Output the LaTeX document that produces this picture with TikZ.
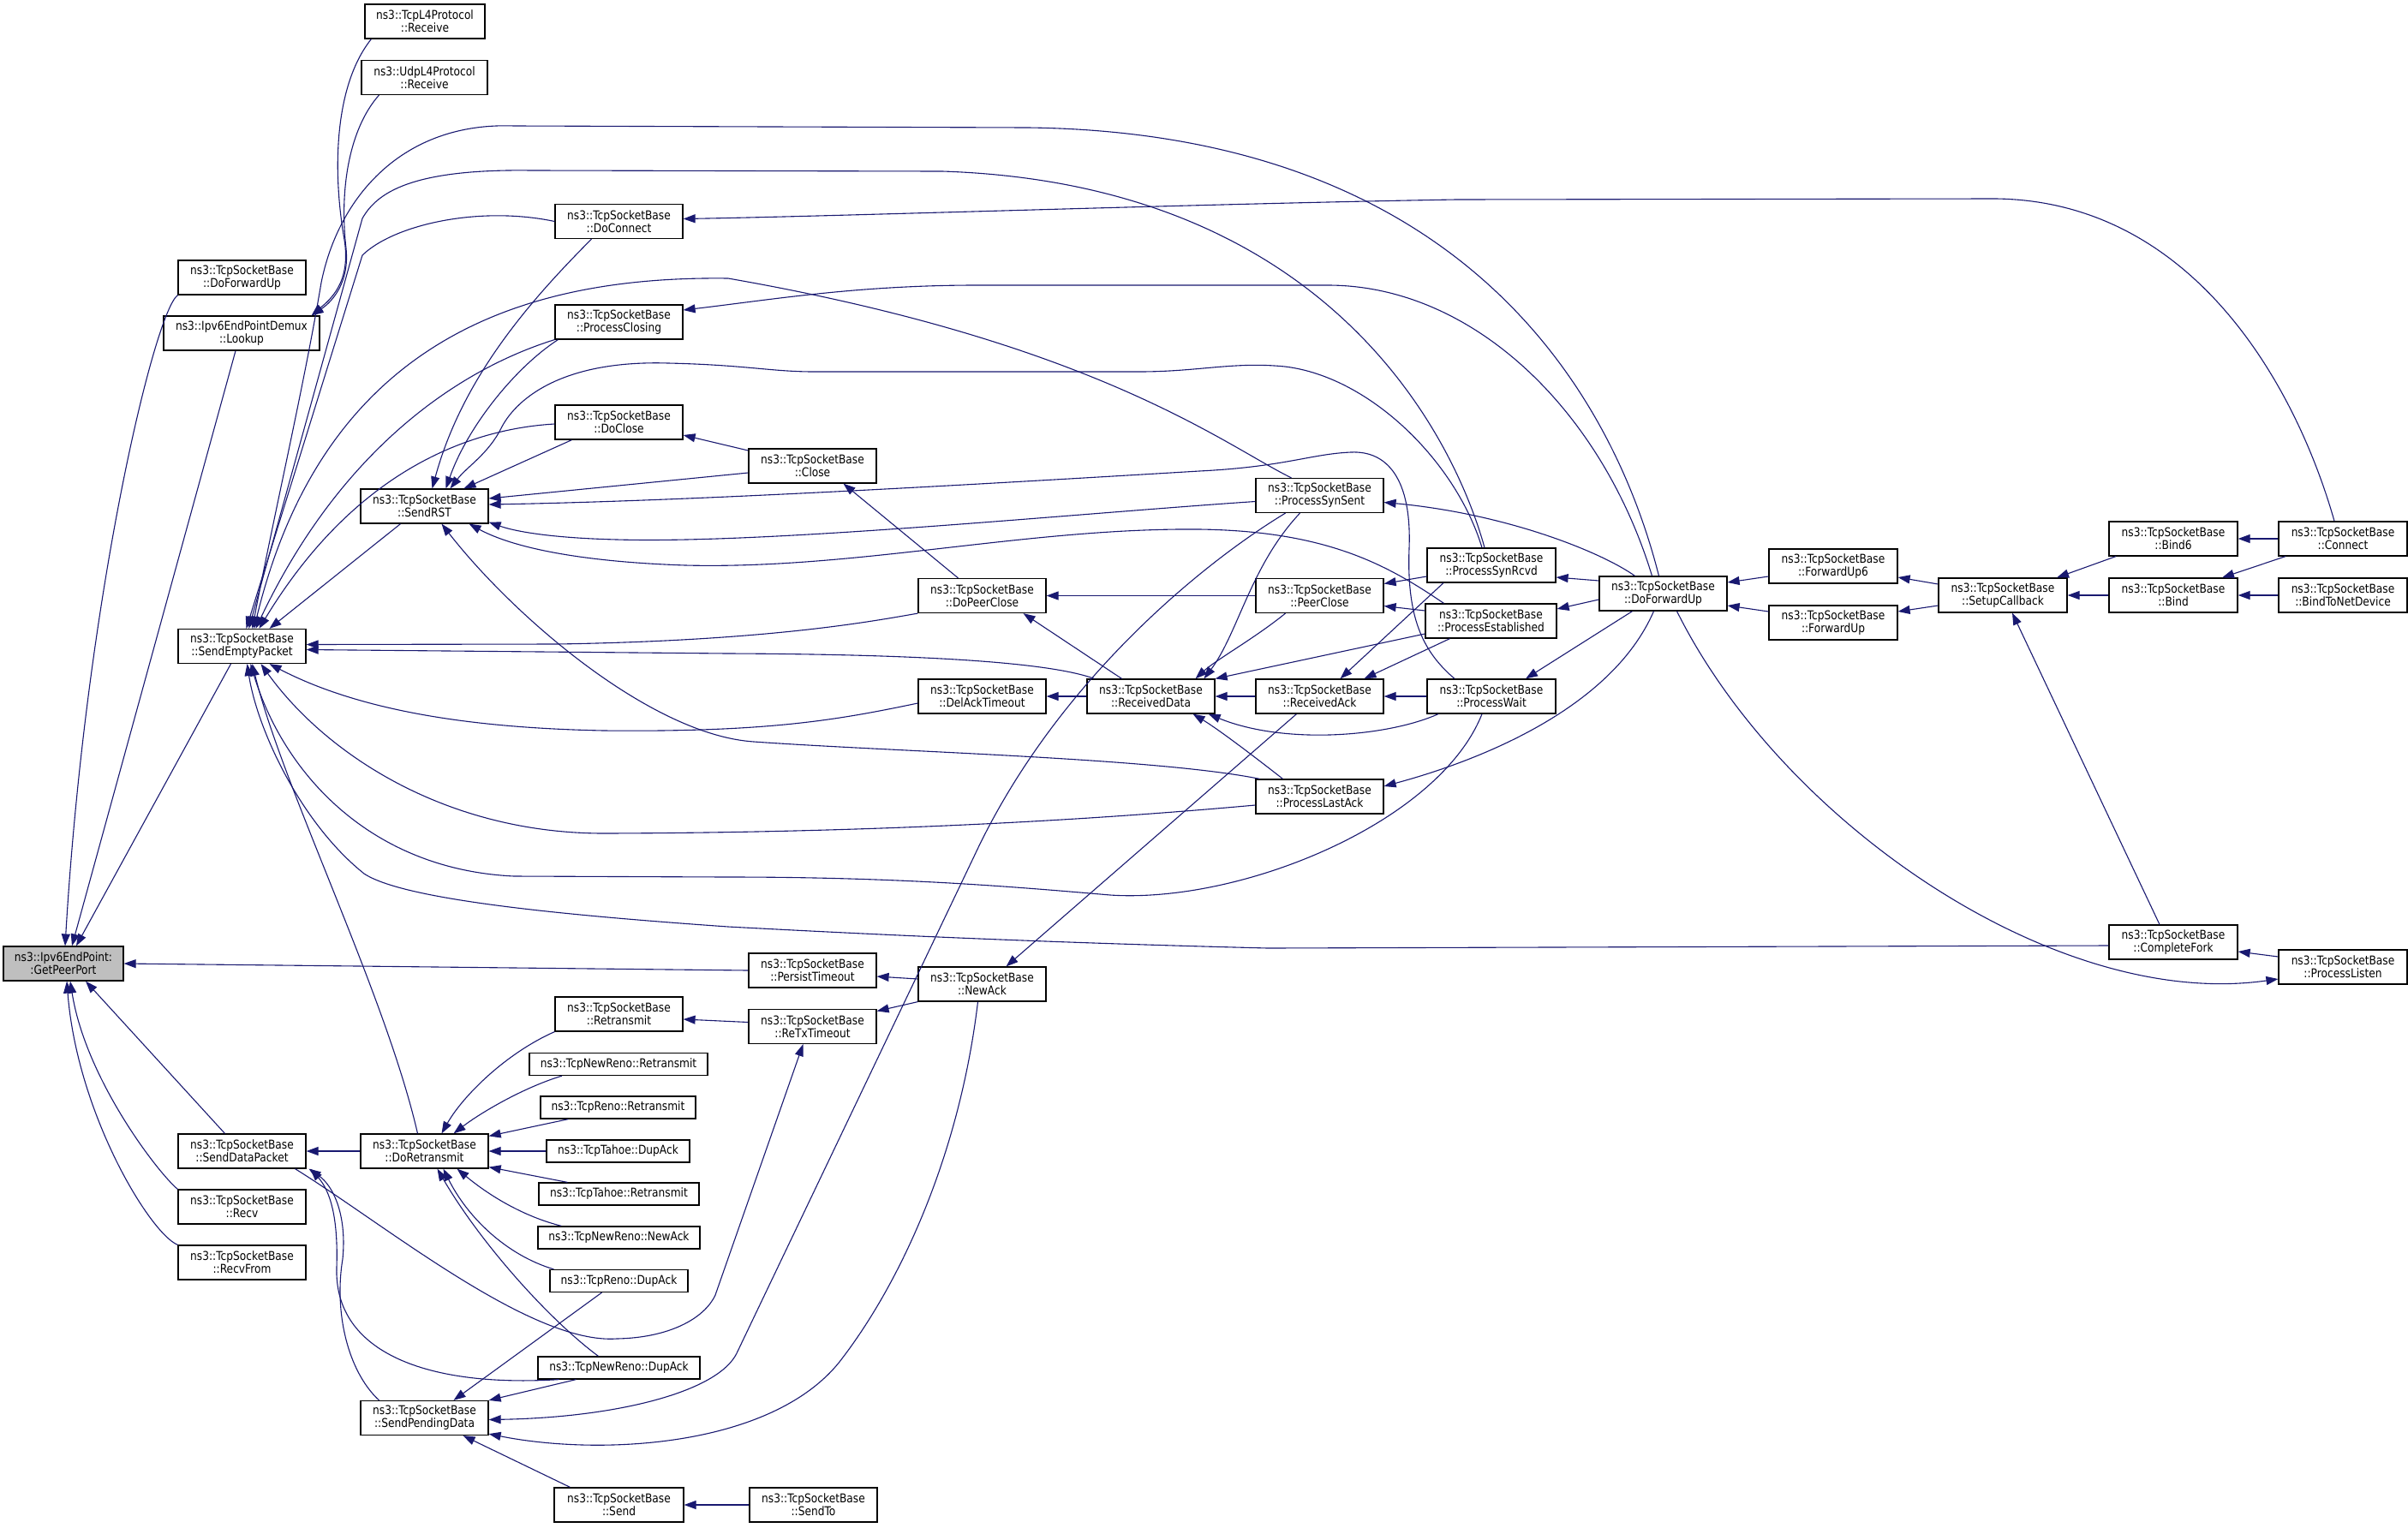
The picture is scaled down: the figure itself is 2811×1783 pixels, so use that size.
\documentclass[tikz,border=0pt]{standalone}
\usepackage{fontspec}
\setmainfont{DejaVu Sans}[FakeStretch=0.86]
\usepackage{tikz}
\usetikzlibrary{arrows.meta,positioning}
\definecolor{edgeblue}{HTML}{191970}
\definecolor{rootgray}{HTML}{BFBFBF}
\newcommand{\doxfont}{\fontsize{14.2}{15}\selectfont}
\tikzset{%
	func/.style  = {draw, rectangle, line width=1.2pt, fill=white, minimum width=149pt, minimum height=40pt, inner sep=0pt, align=center, font=\doxfont},
	func1/.style = {func, minimum height=26pt}, % one-line box
	root/.style  = {func, fill=rootgray}, % the function itself
	call/.style  = {draw=edgeblue, line width=1.1pt, -{Triangle[length=14pt,width=10pt]}},
}
\begin{document}
\begin{tikzpicture}[x=1pt,y=-1pt]
	\useasboundingbox (0,0) rectangle (2811,1783);
	% nodes, left to right
	\node [root, minimum width=140pt] (getpeer) at (74,1125) {ns3::Ipv6EndPoint:\\:GetPeerPort};
	
	\node [func] (dofwdL) at (282.5,324) {ns3::TcpSocketBase\\::DoForwardUp};
	\node [func, minimum width=182pt] (lookup) at (282,389) {ns3::Ipv6EndPointDemux\\::Lookup};
	\node [func] (sendempty) at (282.5,754.5) {ns3::TcpSocketBase\\::SendEmptyPacket};
	\node [func] (senddata) at (282.5,1344) {ns3::TcpSocketBase\\::SendDataPacket};
	\node [func] (recv) [below of=senddata, node distance=65pt] {ns3::TcpSocketBase\\::Recv};
	\node [func] (recvfrom) [below of=recv, node distance=65pt] {ns3::TcpSocketBase\\::RecvFrom};
	
	\node [func, minimum width=140pt] (l4tcp) at (496,25) {ns3::TcpL4Protocol\\::Receive};
	\node [func, minimum width=147pt] (l4udp) at (495.5,90.5) {ns3::UdpL4Protocol\\::Receive};
	\node [func] (sendrst) at (495.5,591) {ns3::TcpSocketBase\\::SendRST};
	\node [func] (doretx) [right of=senddata, node distance=213pt] {ns3::TcpSocketBase\\::DoRetransmit};
	\node [func] (sendpend) at (495.5,1655.5) {ns3::TcpSocketBase\\::SendPendingData};
	
	\node [func] (doconnect) at (722.5,258.5) {ns3::TcpSocketBase\\::DoConnect};
	\node [func] (procclosing) at (722.5,376) {ns3::TcpSocketBase\\::ProcessClosing};
	\node [func] (doclose) at (722.5,493) {ns3::TcpSocketBase\\::DoClose};
	\node [func] (retx) at (722.5,1184) {ns3::TcpSocketBase\\::Retransmit};
	\node [func1, minimum width=208pt] (nrretx) at (722,1242.5) {ns3::TcpNewReno::Retransmit};
	\node [func1, minimum width=181pt] (renoretx) at (721.5,1293) {ns3::TcpReno::Retransmit};
	\node [func1, minimum width=167pt] (tahoedup) [right of=doretx, node distance=226pt] {ns3::TcpTahoe::DupAck};
	\node [func1, minimum width=187pt] (tahoeretx) at (722.5,1394) {ns3::TcpTahoe::Retransmit};
	\node [func1, minimum width=189pt] (nrnewack) at (722.5,1445) {ns3::TcpNewReno::NewAck};
	\node [func1, minimum width=161pt] (renodup) at (722.5,1495.5) {ns3::TcpReno::DupAck};
	\node [func1, minimum width=189pt] (nrdup) at (722.5,1597) {ns3::TcpNewReno::DupAck};
	\node [func, minimum width=151pt] (send) at (722.5,1757) {ns3::TcpSocketBase\\::Send};
	
	\node [func] (close) at (948.5,544) {ns3::TcpSocketBase\\::Close};
	\node [func] (persist) at (948.5,1133) {ns3::TcpSocketBase\\::PersistTimeout};
	\node [func] (retxto) at (948.5,1198.5) {ns3::TcpSocketBase\\::ReTxTimeout};
	\node [func] (sendto) [right of=send, node distance=227pt] {ns3::TcpSocketBase\\::SendTo};
	
	\node [func] (dopeerclose) at (1146.5,695.5) {ns3::TcpSocketBase\\::DoPeerClose};
	\node [func] (delack) at (1146.5,813) {ns3::TcpSocketBase\\::DelAckTimeout};
	\node [func] (newack) at (1146.5,1149) {ns3::TcpSocketBase\\::NewAck};
	\node [func] (recvdata) [right of=delack, node distance=197pt] {ns3::TcpSocketBase\\::ReceivedData};
	
	\node [func] (synsent) at (1540.5,578.5) {ns3::TcpSocketBase\\::ProcessSynSent};
	\node [func] (peerclose) [right of=dopeerclose, node distance=394pt] {ns3::TcpSocketBase\\::PeerClose};
	\node [func] (recvack) [right of=recvdata, node distance=197pt] {ns3::TcpSocketBase\\::ReceivedAck};
	\node [func] (lastack) at (1540.5,930) {ns3::TcpSocketBase\\::ProcessLastAck};
	
	\node [func, minimum width=150pt] (synrcvd) at (1741,660) {ns3::TcpSocketBase\\::ProcessSynRcvd};
	\node [func, minimum width=153pt] (established) at (1740.5,725) {ns3::TcpSocketBase\\::ProcessEstablished};
	\node [func, minimum width=150pt] (procwait) [right of=recvack, node distance=200.5pt] {ns3::TcpSocketBase\\::ProcessWait};
	
	\node [func] (dofwd) at (1941.5,693) {ns3::TcpSocketBase\\::DoForwardUp};
	\node [func, minimum width=150pt] (fwdup6) at (2140,661) {ns3::TcpSocketBase\\::ForwardUp6};
	\node [func, minimum width=150pt] (fwdup) at (2140,727) {ns3::TcpSocketBase\\::ForwardUp};
	\node [func, minimum width=150pt] (setupcb) at (2338,695) {ns3::TcpSocketBase\\::SetupCallback};
	\node [func, minimum width=150pt] (bind6) at (2537,629) {ns3::TcpSocketBase\\::Bind6};
	\node [func, minimum width=150pt] (bind) [right of=setupcb, node distance=199pt] {ns3::TcpSocketBase\\::Bind};
	\node [func, minimum width=150pt] (connect) [right of=bind6, node distance=198pt] {ns3::TcpSocketBase\\::Connect};
	\node [func, minimum width=150pt] (bindnet) [right of=bind, node distance=198pt] {ns3::TcpSocketBase\\::BindToNetDevice};
	\node [func, minimum width=150pt] (completefork) at (2537,1100) {ns3::TcpSocketBase\\::CompleteFork};
	\node [func, minimum width=150pt] (proclisten) at (2735,1129) {ns3::TcpSocketBase\\::ProcessListen};
	
	% into GetPeerPort
	\draw[call] (dofwdL.south west) .. controls (180,365) and (100,700) .. ([xshift=2pt]getpeer.north);
	\draw[call] ([xshift=-7pt]lookup.south) -- ([xshift=10pt]getpeer.north);
	\draw[call] ([xshift=-13pt]sendempty.south) -- ([xshift=15pt]getpeer.north);
	\draw[call] (persist.west) -- (getpeer.east);
	\draw[call] ([xshift=-20pt]senddata.north) -- ([xshift=26pt]getpeer.south);
	\draw[call] (recv.north west) .. controls (185,1370) and (100,1260) .. ([xshift=8pt]getpeer.south);
	\draw[call] (recvfrom.north west) .. controls (175,1440) and (90,1300) .. ([xshift=4pt]getpeer.south);
	\draw[call] ([xshift=8pt]l4tcp.south west) .. controls (390,100) and (388,200) .. (402,280) .. controls (410,330) and (385,350) .. ([xshift=-10pt]lookup.north east);
	\draw[call] ([xshift=21pt]l4udp.south west) .. controls (408,150) and (396,220) .. (404,290) .. controls (408,330) and (388,352) .. ([xshift=-10pt]lookup.north east);
	
	% into SendEmptyPacket
	\draw[call] ([xshift=-5pt]dofwd.north) .. controls (1880,450) and (1700,155) .. (1200,149) -- (600,147) .. controls (470,142) and (395,230) .. (375,330) .. controls (355,450) and (320,600) .. ([xshift=12pt]sendempty.north);
	\draw[call] ([xshift=-8pt]synrcvd.north) .. controls (1700,520) and (1560,215) .. (1100,200) -- (620,199) .. controls (480,197) and (440,225) .. (423,255) -- ([xshift=8pt]sendempty.north);
	\draw[call] (doconnect.west) .. controls (560,240) and (460,262) .. (423,298) -- ([xshift=5pt]sendempty.north);
	\draw[call] ([xshift=-33pt]synsent.north) .. controls (1430,520) and (1280,400) .. (850,325) .. controls (620,322) and (380,390) .. ([xshift=14pt]sendempty.north);
	\draw[call] (procclosing.south west) .. controls (540,430) and (400,520) .. ([xshift=16pt]sendempty.north);
	\draw[call] ([yshift=-2pt]doclose.west) .. controls (560,500) and (420,540) .. ([xshift=20pt]sendempty.north);
	\draw[call] ([xshift=-28pt]sendrst.south) -- ([xshift=32pt]sendempty.north);
	\draw[call] (dopeerclose.south west) .. controls (1020,725) and (900,748) .. (650,752) -- ([yshift=2pt]sendempty.east);
	\draw[call] ([xshift=-66pt]recvdata.north) .. controls (1230,775) and (1100,764) .. (850,763) -- ([yshift=-4pt]sendempty.east);
	\draw[call] ([yshift=-8pt]delack.west) .. controls (980,840) and (900,855) .. (705,853) .. controls (550,850) and (420,830) .. ([xshift=32pt]sendempty.south);
	\draw[call] ([yshift=-10pt]lastack.west) .. controls (1300,955) and (1050,972) .. (705,973) .. controls (520,973) and (380,880) .. ([xshift=22pt]sendempty.south);
	\draw[call] ([xshift=-11pt]procwait.south) .. controls (1680,960) and (1450,1055) .. (1296,1045) .. controls (1180,1035) and (1050,1024) .. (850,1024) -- (600,1023) .. controls (430,1015) and (330,900) .. ([xshift=10pt]sendempty.south);
	\draw[call] ([yshift=-4pt]completefork.west) -- (1480,1107) .. controls (1200,1100) and (1000,1090) .. (850,1082) .. controls (650,1068) and (470,1050) .. (425,1020) .. controls (350,960) and (300,850) .. ([xshift=6pt]sendempty.south);
	\draw[call] ([xshift=-8pt]doretx.north) .. controls (450,1160) and (330,920) .. ([xshift=12pt]sendempty.south);
	
	% into SendRST
	\draw[call] ([xshift=-32pt]doconnect.south) .. controls (620,350) and (540,440) .. ([xshift=9pt]sendrst.north);
	\draw[call] ([xshift=4pt]procclosing.south west) .. controls (600,430) and (545,500) .. ([xshift=25pt]sendrst.north);
	\draw[call] ([xshift=-11pt]synrcvd.north) .. controls (1700,540) and (1600,440) .. (1500,428) .. controls (1440,422) and (1400,434) .. (1330,434) -- (950,434) .. controls (900,434) and (870,426) .. (780,424) .. controls (650,420) and (600,470) .. (585,500) .. controls (570,530) and (545,545) .. ([xshift=30pt]sendrst.north);
	\draw[call] ([xshift=-55pt]doclose.south) -- ([xshift=46pt]sendrst.north);
	\draw[call] ([yshift=-8pt]close.west) -- ([yshift=9pt]sendrst.east);
	\draw[call] ([xshift=-43pt]procwait.north) .. controls (1660,760) and (1642,720) .. (1645,640) .. controls (1648,560) and (1620,526) .. (1577,528) .. controls (1530,530) and (1500,545) .. (1400,550) .. controls (1100,568) and (800,585) .. ([yshift=2pt]sendrst.east);
	\draw[call] ([yshift=-7pt]synsent.west) .. controls (1250,600) and (900,635) .. (720,630) .. controls (640,628) and (600,620) .. ([yshift=2pt]sendrst.south east);
	\draw[call] ([xshift=-55pt]established.north) .. controls (1620,660) and (1550,620) .. (1400,618) .. controls (1200,616) and (1000,665) .. (800,660) .. controls (680,656) and (600,640) .. ([xshift=52pt]sendrst.south);
	\draw[call] ([xshift=-70pt]lastack.north) .. controls (1350,885) and (1050,878) .. (880,866) .. controls (760,858) and (600,720) .. ([xshift=20pt]sendrst.south);
	
	% long ones from the right
	\draw[call] ([xshift=-10pt]connect.north) .. controls (2680,450) and (2560,235) .. (2330,232) -- (1700,233) .. controls (1400,238) and (1000,252) .. ([yshift=3pt]doconnect.east);
	\draw[call] ([xshift=-13pt]dofwd.north) .. controls (1870,480) and (1720,333) .. (1550,333) -- (1140,333) .. controls (1000,333) and (900,350) .. ([yshift=14pt]procclosing.east);
	
	% from DoForwardUp
	\draw[call] ([xshift=-33pt]dofwd.north) .. controls (1870,645) and (1760,600) .. ([yshift=-8pt]synsent.east);
	\draw[call] ([yshift=15pt]dofwd.west) -- ([yshift=-14pt]synrcvd.east);
	\draw[call] ([yshift=-7pt]dofwd.west) -- ([yshift=14pt]established.east);
	\draw[call] ([xshift=-36pt]dofwd.south) -- ([xshift=40pt]procwait.north);
	\draw[call] ([xshift=-11pt]dofwd.south) .. controls (1880,830) and (1720,890) .. ([yshift=12pt]lastack.east);
	\draw[call] ([xshift=16pt]dofwd.south) .. controls (2080,960) and (2400,1180) .. ([yshift=-14pt]proclisten.west);
	
	\draw[call] ([yshift=-12pt]fwdup6.west) -- ([yshift=13pt]dofwd.east);
	\draw[call] ([yshift=13pt]fwdup.west) -- ([yshift=-14pt]dofwd.east);
	\draw[call] ([yshift=13pt]setupcb.west) -- ([yshift=-13pt]fwdup6.east);
	\draw[call] ([yshift=-12pt]setupcb.west) -- ([yshift=13pt]fwdup.east);
	\draw[call] ([xshift=-67pt]bind6.south) -- ([xshift=63pt]setupcb.north);
	\draw[call] (bind) -- (setupcb);
	\draw[call] ([xshift=-16pt]completefork.north) -- ([xshift=11pt]setupcb.south);
	\draw[call] (connect) -- (bind6);
	\draw[call] ([xshift=-67pt]connect.south) -- ([xshift=57pt]bind.north);
	\draw[call] (bindnet) -- (bind);
	\draw[call] ([yshift=12pt]proclisten.west) -- ([yshift=-11pt]completefork.east);
	
	% middle
	\draw[call] ([yshift=18pt]close.west) -- ([yshift=-15pt]doclose.east);
	\draw[call] ([xshift=-28pt]dopeerclose.north) -- ([xshift=36pt]close.south);
	\draw[call] (peerclose) -- (dopeerclose);
	\draw[call] ([xshift=-34pt]recvdata.north) -- ([xshift=48pt]dopeerclose.south);
	\draw[call] (recvdata) -- (delack);
	\draw[call] ([xshift=-23pt]synsent.south) .. controls (1460,660) and (1445,740) .. ([xshift=62pt]recvdata.north);
	\draw[call] ([xshift=-40pt]peerclose.south) .. controls (1465,745) and (1420,770) .. ([xshift=52pt]recvdata.north);
	\draw[call] ([yshift=-15pt]established.west) -- (recvdata.north east);
	\draw[call] (recvack) -- (recvdata);
	\draw[call] ([xshift=-62pt]procwait.south) .. controls (1620,860) and (1500,870) .. ([xshift=-8pt]recvdata.south east);
	\draw[call] ([xshift=-43pt]lastack.north) .. controls (1460,880) and (1420,850) .. ([xshift=49pt]recvdata.south);
	\draw[call] ([yshift=-13pt]synrcvd.west) -- ([yshift=14pt]peerclose.east);
	\draw[call] ([yshift=12pt]established.west) -- ([yshift=-12pt]peerclose.east);
	\draw[call] ([xshift=-56pt]synrcvd.south) -- ([xshift=24pt]recvack.north);
	\draw[call] ([xshift=-48pt]established.south) -- ([xshift=52pt]recvack.north);
	\draw[call] (procwait) -- (recvack);
	\draw[call] ([xshift=-27pt]recvack.south) -- ([xshift=28pt]newack.north);
	\draw[call] ([yshift=6pt]newack.west) -- ([yshift=-7pt]persist.east);
	\draw[call] (newack.south west) -- ([yshift=18pt]retxto.east);
	\draw[call] ([yshift=5pt]retxto.west) -- ([yshift=-6pt]retx.east);
	\draw[call] ([xshift=62pt]senddata.south) .. controls (450,1430) and (620,1570) .. (720,1563) .. controls (780,1562) and (822,1540) .. (835,1512) -- ([xshift=-11pt]retxto.south);
	
	% around DoRetransmit
	\draw[call] (doretx) -- (senddata);
	\draw[call] ([xshift=-70pt]nrdup.south) .. controls (500,1620) and (390,1580) .. (393,1480) .. controls (395,1420) and (385,1390) .. ([xshift=80pt]senddata.south);
	\draw[call] ([xshift=-53pt]sendpend.north) .. controls (405,1600) and (390,1530) .. (400,1470) .. controls (405,1420) and (390,1385) .. ([xshift=78pt]senddata.south);
	\draw[call] (retx.south west) .. controls (590,1230) and (540,1280) .. ([xshift=20pt]doretx.north);
	\draw[call] ([xshift=-66pt]nrretx.south) .. controls (610,1270) and (560,1300) .. ([xshift=34pt]doretx.north);
	\draw[call] ([xshift=-58pt]renoretx.south) -- ([yshift=-3pt]doretx.north east);
	\draw[call] (tahoedup) -- (doretx);
	\draw[call] ([xshift=-60pt]tahoeretx.north) -- ([yshift=2pt]doretx.south east);
	\draw[call] ([xshift=-67pt]nrnewack.north) .. controls (610,1420) and (570,1395) .. ([xshift=38pt]doretx.south);
	\draw[call] ([xshift=-76pt]renodup.north) .. controls (590,1465) and (545,1420) .. ([xshift=22pt]doretx.south);
	\draw[call] ([xshift=-24pt]nrdup.north) .. controls (640,1540) and (560,1450) .. ([xshift=15pt]doretx.south);
	
	% into SendPendingData
	\draw[call] ([xshift=-20pt]renodup.south) -- ([xshift=34pt]sendpend.north);
	\draw[call] ([xshift=-50pt]nrdup.south) -- (sendpend.north east);
	\draw[call] ([xshift=-40pt]synsent.south) .. controls (1400,660) and (1230,800) .. (1137,1000) -- (860,1580) .. controls (838,1625) and (720,1655) .. ([yshift=-2pt]sendpend.east);
	\draw[call] ([xshift=-5pt]newack.south) .. controls (1120,1350) and (1050,1500) .. (980,1590) .. controls (900,1690) and (700,1700) .. ([yshift=2pt]sendpend.south east);
	\draw[call] ([xshift=-57pt]send.north) -- ([xshift=45pt]sendpend.south);
	\draw[call] (sendto) -- (send);
	
\end{tikzpicture}
\end{document}
